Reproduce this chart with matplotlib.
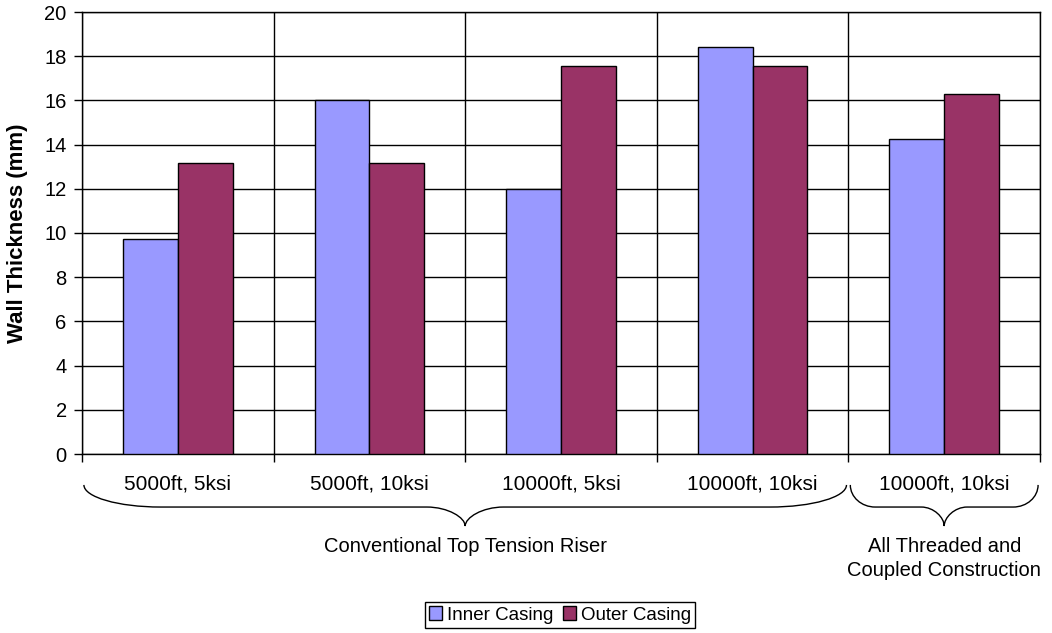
import matplotlib
matplotlib.use('Agg')
import matplotlib.pyplot as plt
import matplotlib.transforms as mtransforms
from matplotlib.path import Path
from matplotlib.patches import PathPatch, Patch
import numpy as np

plt.rcParams['font.family'] = ['Liberation Sans', 'DejaVu Sans']

categories = ['5000ft, 5ksi', '5000ft, 10ksi', '10000ft, 5ksi', '10000ft, 10ksi', '10000ft, 10ksi']
inner_casing = [9.75, 16.0, 12.0, 18.4, 14.25]
outer_casing = [13.15, 13.15, 17.55, 17.55, 16.3]
groups = ['Conventional Top Tension Riser', 'All Threaded and\nCoupled Construction']
group_spans = [(0, 3), (4, 4)]   # first and last category of each group

W, H = 1052, 633
fig = plt.figure(figsize=(W / 100, H / 100), dpi=100)
ax = fig.add_axes([82 / W, 1 - 454 / H, (1040 - 82) / W, 442 / H])

x = np.arange(len(categories))
bw = 1 / 3.5  # excel gap width 150%
ax.bar(x - bw / 2, inner_casing, bw, color='#9999FF', edgecolor='black', linewidth=1, zorder=3, label='Inner Casing')
ax.bar(x + bw / 2, outer_casing, bw, color='#993366', edgecolor='black', linewidth=1, zorder=3, label='Outer Casing')

ax.set_xlim(-0.5, len(categories) - 0.5)
ax.set_ylim(0, 20)
ax.set_yticks(np.arange(0, 21, 2))
ax.set_xticks(x)
ax.set_xticklabels(categories, fontsize=15)
ax.set_xticks(np.arange(-0.5, len(categories), 1), minor=True)
ax.tick_params(axis='x', which='major', length=0, pad=15)
ax.tick_params(axis='x', which='minor', length=6, width=1, direction='out', color='black')
ax.tick_params(axis='y', length=6, width=1, direction='out', labelsize=14.5, pad=5)
ax.grid(axis='y', which='major', color='black', linewidth=1, zorder=0)
ax.grid(axis='x', which='minor', color='black', linewidth=1, zorder=0)
ax.set_axisbelow(True)
for s in ax.spines.values():
    s.set_linewidth(1)
    s.set_color('black')
ax.set_ylabel('Wall Thickness (mm)', fontsize=16, fontweight='bold', labelpad=12)

# curly braces under the category groups
tr = mtransforms.blended_transform_factory(ax.transData, ax.transAxes)
ye, yl, yt = -0.07, -0.12, -0.163


def brace(x0, x1, qe, qm):
    xm = (x0 + x1) / 2
    k = 0.552
    verts = [(x0, ye),
             (x0, ye + k * (yl - ye)), (x0 + qe * (1 - k), yl), (x0 + qe, yl),
             (xm - qm, yl),
             (xm - qm * (1 - k), yl), (xm, yl + k * (yt - yl)), (xm, yt),
             (xm, yl + k * (yt - yl)), (xm + qm * (1 - k), yl), (xm + qm, yl),
             (x1 - qe, yl),
             (x1 - qe * (1 - k), yl), (x1, ye + k * (yl - ye)), (x1, ye)]
    codes = [Path.MOVETO, Path.CURVE4, Path.CURVE4, Path.CURVE4, Path.LINETO,
             Path.CURVE4, Path.CURVE4, Path.CURVE4, Path.CURVE4, Path.CURVE4, Path.CURVE4,
             Path.LINETO, Path.CURVE4, Path.CURVE4, Path.CURVE4]
    ax.add_patch(PathPatch(Path(verts, codes), transform=tr, facecolor='none',
                           edgecolor='black', linewidth=1, clip_on=False))
    return xm


sizes = [(0.4, 0.2), (0.13, 0.12)]
for (a, b), (qe, qm), name in zip(group_spans, sizes, groups):
    xm = brace(a - 0.49, b + 0.49, qe, qm)
    ax.text(xm, -0.188, name, transform=tr, ha='center', va='top', fontsize=14.5, linespacing=1.3)

handles = [Patch(facecolor='#9999FF', edgecolor='black', linewidth=1, label='Inner Casing'),
           Patch(facecolor='#993366', edgecolor='black', linewidth=1, label='Outer Casing')]
leg = fig.legend(handles=handles, loc='center', bbox_to_anchor=(560 / W, 1 - 615 / H), ncol=2,
                 fontsize=13.5, frameon=True, fancybox=False, edgecolor='black', framealpha=1,
                 handlelength=0.7, handleheight=0.7, handletextpad=0.25, columnspacing=0.5,
                 borderpad=0.25, borderaxespad=0)
leg.get_frame().set_linewidth(1)

fig.savefig('out.png', dpi=100)
